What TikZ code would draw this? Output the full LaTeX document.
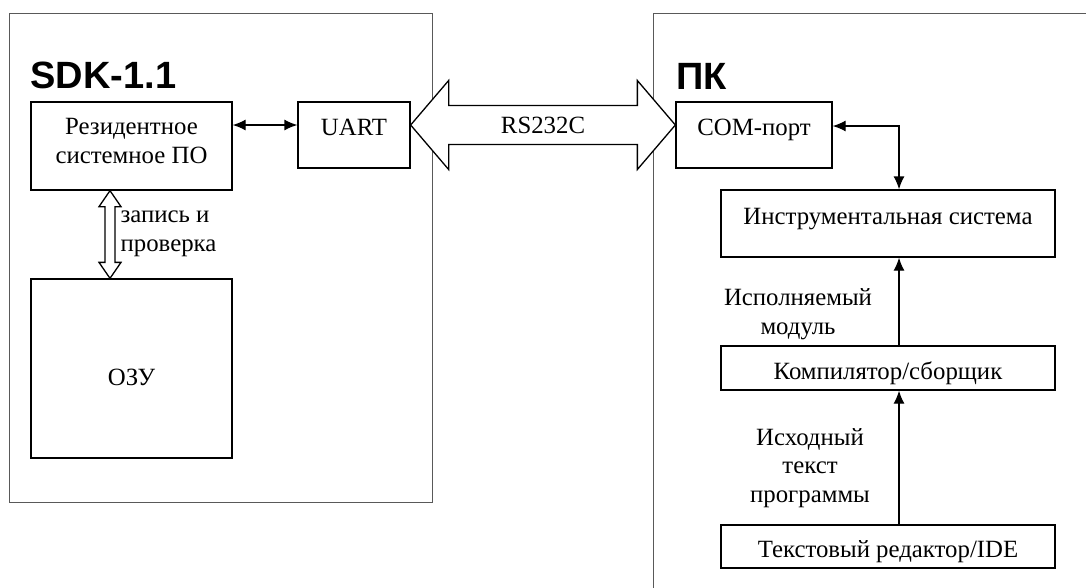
\documentclass[tikz,border=0pt]{standalone}
\usepackage{fontspec}
\setmainfont{Liberation Serif}
\newfontfamily\headfont{Liberation Sans}
\usetikzlibrary{arrows.meta,calc}

\begin{document}
\begin{tikzpicture}
  [x=1pt,y=-1pt,line width=1.3pt,>={Latex[length=13pt,width=11pt]},
   every node/.style={font=\fontsize{24.8}{28.5}\selectfont},
   blk/.style={draw,rectangle,inner sep=0pt,align=center},
   hi/.style={text height=17pt,text depth=16pt},
   lo/.style={text height=#1,text depth=5pt},
   lbl/.style={align=center,inner sep=0pt},
   ttl/.style={anchor=base west,inner sep=0pt,font=\headfont\bfseries\fontsize{38}{42}\selectfont},
   frame/.style={draw=black!65,line width=1pt}]
  \useasboundingbox (0,0) rectangle (1086,587);
  \draw[frame] (9.5,13) rectangle (432,502);
  \draw[frame] (1095,13) -- (653,13) -- (653,595);

  % SDK side
  \node[ttl] (sdk) at (30,88) {SDK-1.1};
  \node[blk,text height=46pt,text depth=12pt,minimum width=201pt,minimum height=88pt] (res) at (131.5,146) {Резидентное\\системное ПО};
  \node[blk,hi,minimum width=112pt,minimum height=66pt] (uart) at (354,135) {UART};
  \node[blk,text height=33pt,text depth=0pt,minimum width=201pt,minimum height=179pt] (ozu) at (131.5,368.5) {ОЗУ};
  \node[lbl,align=left,anchor=west] (zap) at (120,234) {запись и\\проверка};

  % PC side
  \node[ttl] (pk) at (676,89) {ПК};
  \node[blk,hi,minimum width=156pt,minimum height=66pt] (com) at (754,135) {COM-порт};
  \node[blk,hi,minimum width=334pt,minimum height=67pt] (instr) at (888,223.5) {Инструментальная система};
  \node[blk,lo=27pt,minimum width=334pt,minimum height=44pt] (comp) at (888,368) {Компилятор/сборщик};
  \node[blk,lo=26pt,minimum width=334pt,minimum height=43pt] (edit) at (888,546.5) {Текстовый редактор/IDE};
  \node[lbl] (isp) at (798,314) {Исполняемый\\модуль};
  \node[lbl] (ish) at (810,468) {Исходный\\текст\\программы};

  % RS232C link
  \coordinate (l) at ([yshift=10pt]uart.east);
  \coordinate (r) at ([yshift=10pt]com.west);
  \draw[fill=white] (l) -- ++(38,-44.5) -- ++(0,25) -- ($(r)+(-38,-19.5)$) -- ++(0,-25) -- (r)
    -- ++(-38,44.5) -- ++(0,-25) -- ($(l)+(38,19.5)$) -- ++(0,25) -- cycle;
  \node (rs) at ($(l)!0.5!(r)$) {RS232C};

  % write/verify link
  \coordinate (t) at ([xshift=-21.5pt]res.south);
  \coordinate (b) at ([xshift=-21.5pt]ozu.north);
  \draw[fill=white] (t) -- ++(11,16) -- ++(-6,0) -- ($(b)+(5,-16)$) -- ++(6,0) -- (b)
    -- ++(-11,-16) -- ++(6,0) -- ($(t)+(-5,16)$) -- ++(-6,0) -- cycle;

  \draw[<->] ([yshift=21pt]res.east) -- ([yshift=21pt]res.east -| uart.west);
  \draw[<->] ([yshift=9pt]com.east) -| ([xshift=11pt]instr.north);
\foreach \from/\to in {comp/instr, edit/comp}
    \draw[->] ([xshift=11pt]\from.north) -- ([xshift=11pt]\to.south);
\end{tikzpicture}
\end{document}
